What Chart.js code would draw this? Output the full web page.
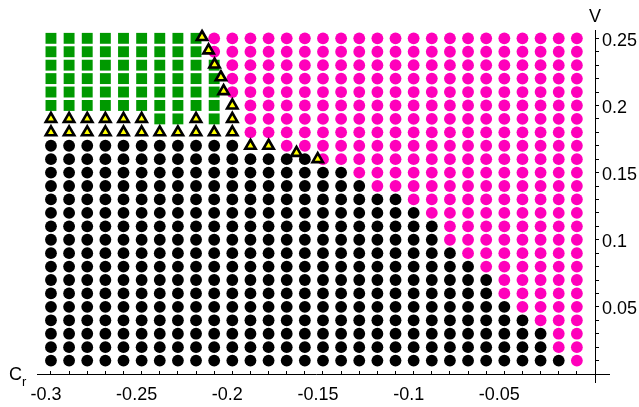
<!DOCTYPE html>
<html>
<head>
<meta charset="utf-8">
<style>
  html, body { margin: 0; padding: 0; background: #fff; }
</style>
</head>
<body>
<canvas id="phaseChart" width="639" height="407"></canvas>
<script src="https://cdn.jsdelivr.net/npm/chart.js@4.4.1/dist/chart.umd.min.js"></script>
<script>
// grid columns (C_r) left to right
const crValues = [-0.30, -0.29, -0.28, -0.27, -0.26, -0.25, -0.24, -0.23, -0.22, -0.21,
                  -0.20, -0.19, -0.18, -0.17, -0.16, -0.15, -0.14, -0.13, -0.12, -0.11,
                  -0.10, -0.09, -0.08, -0.07, -0.06, -0.05, -0.04, -0.03, -0.02, -0.01];

// grid rows (v) top to bottom
const vValues = [0.25, 0.24, 0.23, 0.22, 0.21, 0.20, 0.19, 0.18, 0.17, 0.16, 0.15, 0.14, 0.13,
                 0.12, 0.11, 0.10, 0.09, 0.08, 0.07, 0.06, 0.05, 0.04, 0.03, 0.02, 0.01];

// each grid row as runs: g = green square, t = triangle, b = black dot, p = pink dot
const rowRuns = [
  [['g', 9], ['p', 21]],                                              // 0.25
  [['g', 9], ['p', 21]],                                              // 0.24
  [['g', 10], ['p', 20]],                                             // 0.23
  [['g', 10], ['p', 20]],                                             // 0.22
  [['g', 10], ['p', 20]],                                             // 0.21
  [['g', 10], ['t', 1], ['p', 19]],                                   // 0.20
  [['t', 6], ['g', 2], ['t', 1], ['g', 1], ['t', 1], ['p', 19]],      // 0.19
  [['t', 11], ['p', 19]],                                             // 0.18
  [['b', 11], ['t', 2], ['p', 17]],                                   // 0.17
  [['b', 15], ['p', 15]],                                             // 0.16
  [['b', 17], ['p', 13]],                                             // 0.15
  [['b', 18], ['p', 12]],                                             // 0.14
  [['b', 20], ['p', 10]],                                             // 0.13
  [['b', 21], ['p', 9]],                                              // 0.12
  [['b', 22], ['p', 8]],                                              // 0.11
  [['b', 22], ['p', 8]],                                              // 0.10
  [['b', 23], ['p', 7]],                                              // 0.09
  [['b', 24], ['p', 6]],                                              // 0.08
  [['b', 25], ['p', 5]],                                              // 0.07
  [['b', 25], ['p', 5]],                                              // 0.06
  [['b', 26], ['p', 4]],                                              // 0.05
  [['b', 27], ['p', 3]],                                              // 0.04
  [['b', 28], ['p', 2]],                                              // 0.03
  [['b', 28], ['p', 2]],                                              // 0.02
  [['b', 29], ['p', 1]]                                               // 0.01
];

// boundary triangles sitting between grid nodes
const edgeCr = [-0.2167, -0.2131, -0.2098, -0.2063, -0.2048, -0.1646, -0.1529];
const edgeV  = [0.251, 0.241, 0.2305, 0.221, 0.2107, 0.1647, 0.160];

// labelled ticks
const xTickLabels = [-0.3, -0.25, -0.2, -0.15, -0.1, -0.05];
const yTickLabels = [0.05, 0.1, 0.15, 0.2, 0.25];

const FONT = '"Liberation Sans", Arial, Helvetica, sans-serif';

// sort grid nodes into the four marker groups
const groups = { g: [], t: [], b: [], p: [] };
rowRuns.forEach((runs, r) => {
    let c = 0;
    runs.forEach(([kind, n]) => {
        for (let k = 0; k < n; k++, c++) {
            groups[kind].push({ x: crValues[c], y: vValues[r] });
        }
    });
});
edgeCr.forEach((x, i) => groups.t.push({ x: x, y: edgeV[i] }));

function pickLabel(list, value) {
    const hit = list.find(t => Math.abs(t - value) < 1e-6);
    return hit === undefined ? '' : String(hit);
}

// axis line stubs past the crossing point, plus axis names
const axisExtras = {
    id: 'axisExtras',
    afterDraw(chart) {
        const { ctx } = chart;
        const xs = chart.scales.x;
        const ys = chart.scales.y;
        ctx.save();
        ctx.strokeStyle = '#000';
        ctx.lineWidth = 1;
        ctx.beginPath();
        ctx.moveTo(xs.right, ys.bottom + 0.5);
        ctx.lineTo(xs.right + 15, ys.bottom + 0.5);
        ctx.moveTo(xs.right + 0.5, ys.bottom);
        ctx.lineTo(xs.right + 0.5, ys.bottom + 9);
        ctx.stroke();

        ctx.fillStyle = '#000';
        ctx.textBaseline = 'alphabetic';
        ctx.font = '18px ' + FONT;
        ctx.textAlign = 'left';
        ctx.fillText('C', 9, 380);
        ctx.font = '13px ' + FONT;
        ctx.fillText('r', 22, 386);
        ctx.font = '18px ' + FONT;
        ctx.textAlign = 'center';
        ctx.fillText('V', xs.right, 22);
        ctx.restore();
    }
};

const ctx = document.getElementById('phaseChart').getContext('2d');
new Chart(ctx, {
    type: 'scatter',
    data: {
        datasets: [
            {
                label: 'boundary',
                data: groups.t,
                pointStyle: 'triangle',
                pointRadius: 6,
                backgroundColor: '#ffff00',
                borderColor: '#000000',
                borderWidth: 2.6,
                clip: false
            },
            {
                label: 'green',
                data: groups.g,
                pointStyle: 'rect',
                pointRadius: 7.7,
                backgroundColor: '#009900',
                borderWidth: 0,
                clip: false
            },
            {
                label: 'pink',
                data: groups.p,
                pointStyle: 'circle',
                pointRadius: 5.9,
                backgroundColor: '#ff00bb',
                borderWidth: 0,
                clip: false
            },
            {
                label: 'black',
                data: groups.b,
                pointStyle: 'circle',
                pointRadius: 5.9,
                backgroundColor: '#000000',
                borderWidth: 0,
                clip: false
            }
        ]
    },
    options: {
        responsive: false,
        animation: false,
        layout: { padding: { left: 37, top: 30, right: 0, bottom: 0 } },
        plugins: {
            legend: { display: false },
            tooltip: { enabled: false }
        },
        scales: {
            x: {
                type: 'linear',
                position: 'bottom',
                min: -0.3077,
                max: 0,
                afterFit: s => { s.height = 33; },
                border: { display: true, color: '#000', width: 1 },
                grid: {
                    drawOnChartArea: false,
                    drawTicks: true,
                    tickLength: -3,
                    color: '#000',
                    tickColor: '#000'
                },
                ticks: {
                    stepSize: 0.01,
                    includeBounds: false,
                    autoSkip: false,
                    maxRotation: 0,
                    padding: 13,
                    labelOffset: -5,
                    color: '#000',
                    font: { family: FONT, size: 18 },
                    callback: v => pickLabel(xTickLabels, v)
                }
            },
            y: {
                type: 'linear',
                position: 'right',
                min: 0,
                max: 0.2562,
                afterFit: s => { s.width = 44; },
                border: { display: true, color: '#000', width: 1 },
                grid: {
                    drawOnChartArea: false,
                    drawTicks: true,
                    tickLength: 4,
                    color: '#000',
                    tickColor: '#000'
                },
                ticks: {
                    stepSize: 0.01,
                    includeBounds: false,
                    autoSkip: false,
                    padding: 3,
                    labelOffset: 2.5,
                    color: '#000',
                    font: { family: FONT, size: 18 },
                    callback: v => pickLabel(yTickLabels, v)
                }
            }
        }
    },
    plugins: [axisExtras]
});
</script>
</body>
</html>
